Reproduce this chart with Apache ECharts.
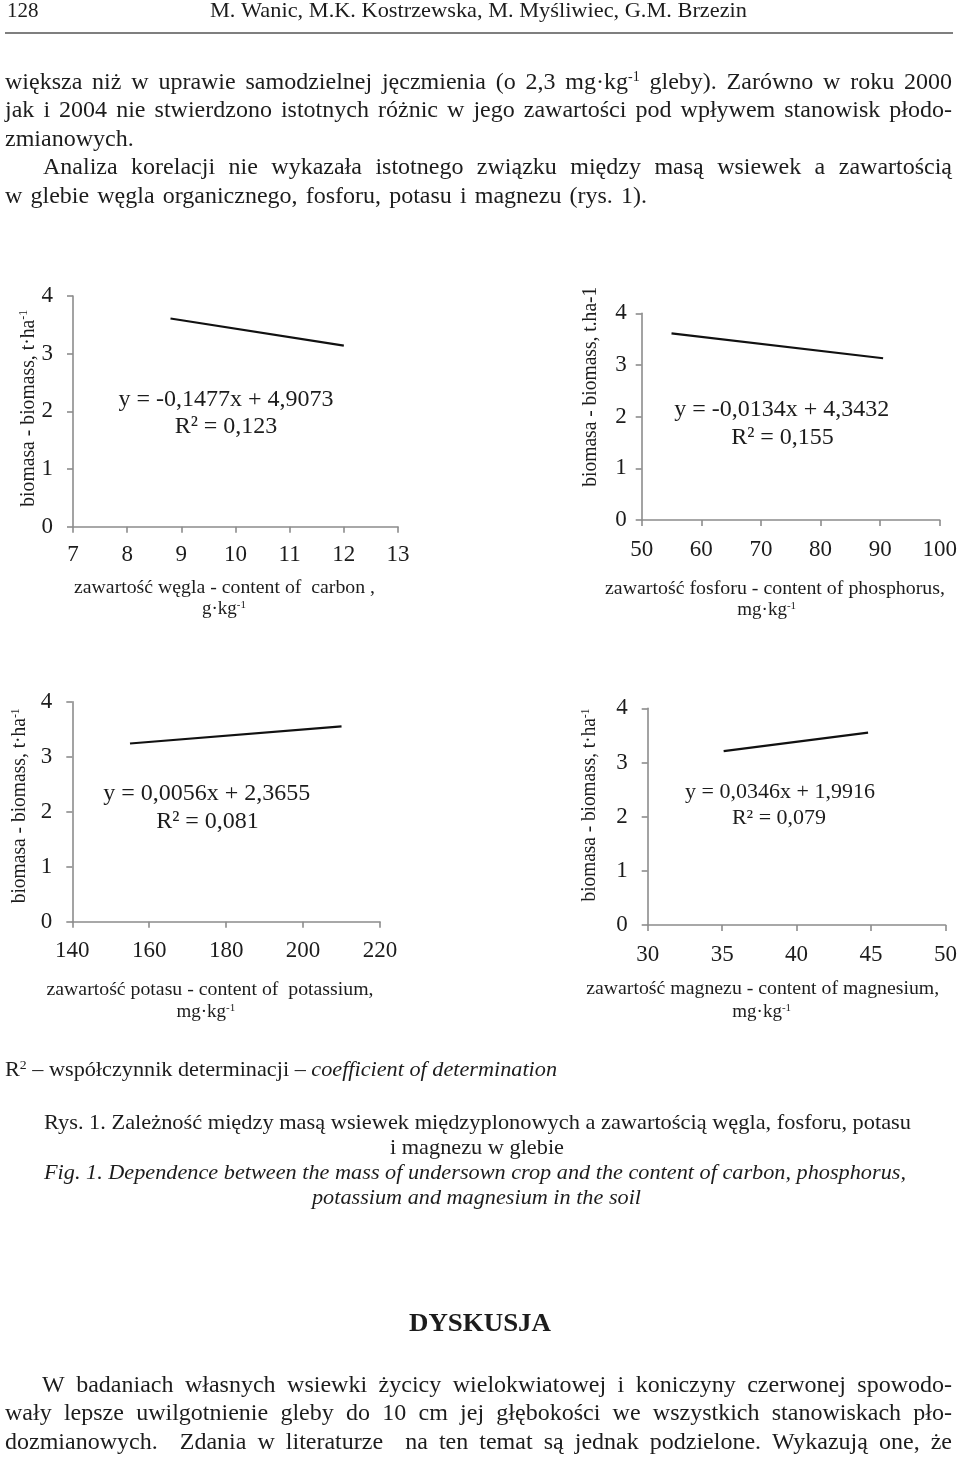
<!DOCTYPE html>
<html><head><meta charset="utf-8">
<script src="https://cdn.jsdelivr.net/npm/echarts@6/dist/echarts.min.js"></script>
<style>html,body{margin:0;padding:0;background:#fff}#c{width:960px;height:1461px}</style>
</head><body><div id="c"></div>
<script>
// ---------- data ----------
const carbonX = [8.8, 12.0];
const carbonY = [3.61, 3.14];
const phosphorusX = [55, 90.5];
const phosphorusY = [3.61, 3.13];
const potassiumX = [155, 210];
const potassiumY = [3.24, 3.55];
const magnesiumX = [35.1, 44.8];
const magnesiumY = [3.21, 3.55];

const biomassTicks = [0, 1, 2, 3, 4];
const carbonTicks = [7, 8, 9, 10, 11, 12, 13];
const phosphorusTicks = [50, 60, 70, 80, 90, 100];
const potassiumTicks = [140, 160, 180, 200, 220];
const magnesiumTicks = [30, 35, 40, 45, 50];

const equations = ['y = -0,1477x + 4,9073', 'y = -0,0134x + 4,3432', 'y = 0,0056x + 2,3655', 'y = 0,0346x + 1,9916'];
const r2Labels = ['R² = 0,123', 'R² = 0,155', 'R² = 0,081', 'R² = 0,079'];
const yNames = ['biomasa - biomass, t·ha{sup|-1}', 'biomasa - biomass, t.ha-1', 'biomasa - biomass, t·ha{sup|-1}', 'biomasa - biomass, t·ha{sup|-1}'];
const xNames1 = ['zawartość węgla - content of  carbon ,', 'zawartość fosforu - content of phosphorus,', 'zawartość potasu - content of  potassium,', 'zawartość magnezu - content of magnesium,'];
const xNames2 = ['g·kg{sup|-1}', 'mg·kg{sup|-1}', 'mg·kg{sup|-1}', 'mg·kg{sup|-1}'];

// ---------- text helpers ----------
const FONT = '"Liberation Serif", "Times New Roman", serif';
const INK = '#1c1c1c';
const ctx = document.createElement('canvas').getContext('2d');
function fontStr(fs, it, b) { return (it ? 'italic ' : 'normal ') + (b ? 'bold ' : 'normal ') + fs + 'px ' + FONT; }
function richStyles(fs, it, b) {
  return {
    sup: { fontSize: Math.round(fs * 0.6), fontFamily: FONT, fontStyle: it ? 'italic' : 'normal', fontWeight: b ? 'bold' : 'normal', verticalAlign: 'top', fill: INK },
    it: { fontSize: fs, fontFamily: FONT, fontStyle: 'italic', fontWeight: b ? 'bold' : 'normal', fill: INK }
  };
}
function measure(str, fs, it, b) {
  const re = /\{(\w+)\|([^}]*)\}/g; let w = 0, last = 0, m;
  while ((m = re.exec(str))) {
    ctx.font = fontStr(fs, it, b); w += ctx.measureText(str.slice(last, m.index)).width;
    if (m[1] === 'sup') ctx.font = fontStr(Math.round(fs * 0.6), it, b);
    else if (m[1] === 'it') ctx.font = fontStr(fs, true, b);
    w += ctx.measureText(m[2]).width; last = re.lastIndex;
  }
  ctx.font = fontStr(fs, it, b); w += ctx.measureText(str.slice(last)).width;
  return w;
}
function T(str, x, y, o) {
  o = o || {}; const fs = o.fs || 24; const al = o.align || 'left';
  const el = {
    type: 'text', x: x, y: y, silent: true,
    style: {
      text: str, x: 0, y: 0, fontSize: fs, fontFamily: FONT,
      fontStyle: o.italic ? 'italic' : 'normal', fontWeight: o.bold ? 'bold' : 'normal',
      fill: INK, align: al, textAlign: al, verticalAlign: 'middle', textVerticalAlign: 'middle',
      rich: richStyles(fs, o.italic, o.bold)
    }
  };
  if (o.rot) el.rotation = o.rot;
  if (o.w) el.scaleX = o.w / measure(str, fs, o.italic, o.bold);
  return el;
}
function justify(str, x0, x1, y, fs) {
  const words = str.split(' ');
  const ws = words.map(w => measure(w, fs));
  const total = ws.reduce((a, b) => a + b, 0);
  const gap = (x1 - x0 - total) / (words.length - 1);
  const out = []; let x = x0;
  words.forEach((w, i) => { if (w) out.push(T(w, x, y, { fs: fs })); x += ws[i] + gap; });
  return out;
}

// ---------- page text ----------
const BODY = 24;
const graphics = [];
graphics.push(T('128', 7, 11, { fs: 21 }));
graphics.push(T('M. Wanic, M.K. Kostrzewska, M. Myśliwiec, G.M. Brzezin', 478.5, 11, { fs: 21, align: 'center', w: 537 }));
graphics.push({ type: 'line', silent: true, shape: { x1: 5, y1: 33, x2: 953, y2: 33 }, style: { stroke: '#555', lineWidth: 1.5 } });

graphics.push(...justify('większa niż w uprawie samodzielnej jęczmienia (o 2,3 mg·kg{sup|-1} gleby). Zarówno w roku 2000', 5, 952, 82.7, BODY));
graphics.push(...justify('jak i 2004 nie stwierdzono istotnych różnic w jego zawartości pod wpływem stanowisk płodo-', 5, 952, 111.1, BODY));
graphics.push(T('zmianowych.', 5, 139.5, { fs: BODY }));
graphics.push(...justify('Analiza korelacji nie wykazała istotnego związku między masą wsiewek a zawartością', 43, 952, 167.9, BODY));
graphics.push(...justify('w glebie węgla organicznego, fosforu, potasu i magnezu (rys. 1).', 5, 647, 196.3, BODY));

graphics.push(T('R{sup|2} – współczynnik determinacji – {it|coefficient of determination}', 5, 1070, { fs: 21, w: 552 }));
graphics.push(T('Rys. 1. Zależność między masą wsiewek międzyplonowych a zawartością węgla, fosforu, potasu', 477.5, 1123, { fs: 21, align: 'center', w: 867 }));
graphics.push(T('i magnezu w glebie', 477, 1148.5, { fs: 21, align: 'center', w: 174 }));
graphics.push(T('Fig. 1. Dependence between the mass of undersown crop and the content of carbon, phosphorus,', 475, 1173, { fs: 21, italic: true, align: 'center', w: 862 }));
graphics.push(T('potassium and magnesium in the soil', 476.5, 1198.5, { fs: 21, italic: true, align: 'center', w: 329 }));

graphics.push(T('DYSKUSJA', 480, 1324, { fs: 26, bold: true, align: 'center', w: 142 }));
graphics.push(...justify('W badaniach własnych wsiewki życicy wielokwiatowej i koniczyny czerwonej spowodo-', 42, 952, 1385.5, BODY));
graphics.push(...justify('wały lepsze uwilgotnienie gleby do 10 cm jej głębokości we wszystkich stanowiskach pło-', 5, 952, 1414, BODY));
graphics.push(...justify('dozmianowych.  Zdania w literaturze  na ten temat są jednak podzielone. Wykazują one, że', 5, 952, 1443, BODY));

// ---------- chart panels ----------
const panels = [
  { xs: carbonX, ys: carbonY, ticks: carbonTicks, grid: { left: 73, top: 296, width: 325, height: 230.7 }, ym: 20, xm: 17,
    eq: [226, 399.7, 24], r2: [226, 427.2], yn: [28.3, 408.3, 197], xn1: [224.5, 588, 301], xn2: [224, 609] },
  { xs: phosphorusX, ys: phosphorusY, ticks: phosphorusTicks, grid: { left: 641.7, top: 313.3, width: 300, height: 206.7 }, ym: 15, xm: 18,
    eq: [781.7, 409.7, 24], r2: [782.5, 437.8], yn: [590.8, 386.7, 200], xn1: [775, 589, 340], xn2: [766.7, 610] },
  { xs: potassiumX, ys: potassiumY, ticks: potassiumTicks, grid: { left: 72.3, top: 701.7, width: 307.7, height: 220 }, ym: 20, xm: 18,
    eq: [206.7, 793.8, 24], r2: [207.5, 822], yn: [20, 805.8, 195], xn1: [210, 990, 327], xn2: [205.8, 1011.7] },
  { xs: magnesiumX, ys: magnesiumY, ticks: magnesiumTicks, grid: { left: 647.7, top: 708.3, width: 300.6, height: 216.7 }, ym: 20, xm: 18,
    eq: [780, 792, 22], r2: [779, 817.8], yn: [589.5, 805, 193], xn1: [762.7, 988.8, 353], xn2: [761.7, 1012.5] }
];

const axisColor = '#8c8c8c';
const grids = [], xAxes = [], yAxes = [], series = [];
panels.forEach((p, i) => {
  grids.push(Object.assign({ containLabel: false }, p.grid));
  const t = p.ticks;
  xAxes.push({
    type: 'value', gridIndex: i, min: t[0], max: t[t.length - 1], interval: t[1] - t[0],
    axisLine: { show: true, onZero: false, lineStyle: { color: axisColor, width: 1.6 } },
    axisTick: { show: true, length: 6, lineStyle: { color: axisColor, width: 1.6 } },
    splitLine: { show: false },
    axisLabel: { fontFamily: FONT, fontSize: 23, color: INK, margin: p.xm, showMinLabel: true, showMaxLabel: true }
  });
  const bt = biomassTicks;
  yAxes.push({
    type: 'value', gridIndex: i, min: bt[0], max: bt[bt.length - 1], interval: bt[1] - bt[0],
    axisLine: { show: true, lineStyle: { color: axisColor, width: 1.6 } },
    axisTick: { show: true, length: 6, lineStyle: { color: axisColor, width: 1.6 } },
    splitLine: { show: false },
    axisLabel: { fontFamily: FONT, fontSize: 23, color: INK, margin: p.ym }
  });
  series.push({
    type: 'line', xAxisIndex: i, yAxisIndex: i, showSymbol: false, silent: true,
    data: p.xs.map((x, k) => [x, p.ys[k]]),
    lineStyle: { color: '#111', width: 2.2 }
  });
  graphics.push(T(equations[i], p.eq[0], p.eq[1], { fs: p.eq[2], align: 'center' }));
  graphics.push(T(r2Labels[i], p.r2[0], p.r2[1], { fs: p.eq[2], align: 'center' }));
  graphics.push(T(yNames[i], p.yn[0], p.yn[1], { fs: 20, align: 'center', rot: Math.PI / 2, w: p.yn[2] }));
  graphics.push(T(xNames1[i], p.xn1[0], p.xn1[1], { fs: 19, align: 'center', w: p.xn1[2] }));
  graphics.push(T(xNames2[i], p.xn2[0], p.xn2[1], { fs: 19, align: 'center' }));
});

const chart = echarts.init(document.getElementById('c'), null, { renderer: 'canvas' });
chart.setOption({
  backgroundColor: '#ffffff',
  animation: false,
  grid: grids,
  xAxis: xAxes,
  yAxis: yAxes,
  series: series,
  graphic: { elements: graphics }
});
</script>
</body></html>
